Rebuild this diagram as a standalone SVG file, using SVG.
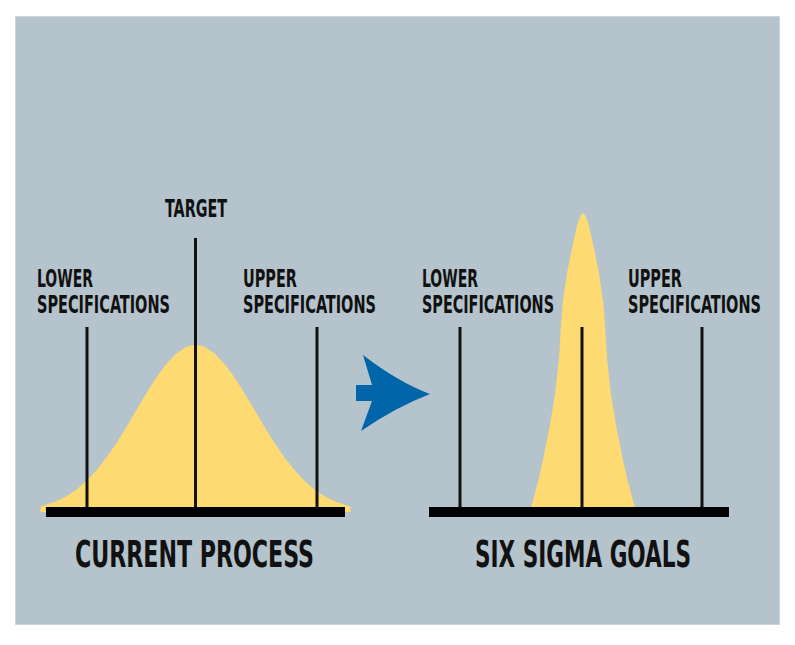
<svg xmlns="http://www.w3.org/2000/svg" width="795" height="645" viewBox="0 0 795 645">
  <style>
    .lbl { font-family: "DejaVu Sans Condensed", "DejaVu Sans", sans-serif; font-weight: bold; font-size: 24px; fill: #111111; }
    .ttl { font-family: "DejaVu Sans Condensed", "DejaVu Sans", sans-serif; font-weight: bold; font-size: 38px; fill: #111111; }
    .spec { stroke: #111111; stroke-width: 3; fill: none; }
    .bar { fill: #000000; }
    .curve { fill: #fdda72; }
  </style>
  <rect width="795" height="645" fill="#ffffff"/>
  <rect id="panel" x="15.5" y="16.5" width="764" height="608" fill="#b4c3cc" stroke="#c9d4db" stroke-width="1"/>

  <g id="current-process">
    <polygon class="curve" points="40.5,512 40.5,506.4 45.5,505 55.5,501.5 65.5,496.7 75.5,490.2 85.5,481.8 95.5,471.3 105.5,458.8 115.5,444.4 125.5,428.4 135.5,411.6 145.5,394.7 155.5,378.8 165.5,364.9 175.5,354.2 185.5,347.3 190.5,345.6 195.5,345 200.5,345.6 205.5,347.3 215.5,354.2 225.5,364.9 235.5,378.8 245.5,394.7 255.5,411.6 265.5,428.4 275.5,444.4 285.5,458.8 295.5,471.3 305.5,481.8 315.5,490.2 325.5,496.7 335.5,501.5 345.5,505 350.5,506.4 350.5,512"/>
    <line class="spec" x1="87" y1="327" x2="87" y2="508"/>
    <line class="spec" x1="195.5" y1="238" x2="195.5" y2="508"/>
    <line class="spec" x1="317" y1="327" x2="317" y2="508"/>
    <rect class="bar" x="46" y="507" width="299" height="10"/>
    <text class="lbl" transform="translate(165,217) scale(0.7,1)" textLength="88.6" lengthAdjust="spacingAndGlyphs">TARGET</text>
    <text class="lbl" transform="translate(37,287) scale(0.7,1)" textLength="80" lengthAdjust="spacingAndGlyphs">LOWER</text>
    <text class="lbl" transform="translate(37,313) scale(0.7,1)" textLength="190" lengthAdjust="spacingAndGlyphs">SPECIFICATIONS</text>
    <text class="lbl" transform="translate(243,287) scale(0.7,1)" textLength="77.1" lengthAdjust="spacingAndGlyphs">UPPER</text>
    <text class="lbl" transform="translate(243,313) scale(0.7,1)" textLength="190" lengthAdjust="spacingAndGlyphs">SPECIFICATIONS</text>
    <text class="ttl" transform="translate(75,567) scale(0.7,1)" textLength="341.4" lengthAdjust="spacingAndGlyphs">CURRENT PROCESS</text>
  </g>

  <g id="six-sigma-goals">
    <polygon class="curve" points="530.5,510 530.5,508 532.5,502 535,493 538.5,480 543,460 549.6,427 555.2,393 559,358 560.7,330 562.5,305 564.5,290 567.2,272 570.6,255 574.3,238 576.5,228 578.8,220 581,215 583,213 585,215 587.2,220 589.5,228 591.7,238 595.4,255 598.8,272 601.5,290 603.5,305 605.3,330 607,358 610.8,393 616.4,427 623,460 627.5,480 631,493 633.5,502 635.5,508 635.5,510"/>
    <line class="spec" x1="460" y1="327" x2="460" y2="508"/>
    <line class="spec" x1="582" y1="327" x2="582" y2="508"/>
    <line class="spec" x1="702" y1="327" x2="702" y2="508"/>
    <rect class="bar" x="429" y="507" width="300" height="10"/>
    <text class="lbl" transform="translate(422,287) scale(0.7,1)" textLength="80" lengthAdjust="spacingAndGlyphs">LOWER</text>
    <text class="lbl" transform="translate(422,313) scale(0.7,1)" textLength="188.6" lengthAdjust="spacingAndGlyphs">SPECIFICATIONS</text>
    <text class="lbl" transform="translate(628,287) scale(0.7,1)" textLength="77.1" lengthAdjust="spacingAndGlyphs">UPPER</text>
    <text class="lbl" transform="translate(628,313) scale(0.7,1)" textLength="190" lengthAdjust="spacingAndGlyphs">SPECIFICATIONS</text>
    <text class="ttl" transform="translate(475,567) scale(0.7,1)" textLength="308.6" lengthAdjust="spacingAndGlyphs">SIX SIGMA GOALS</text>
  </g>

  <g id="connectors">
    <path d="M363,355 Q398,382 430,394 Q396,407 361,431 L372,401 L356,401 L356,385 L372,385 Z" fill="#0066a9"/>
  </g>
</svg>
